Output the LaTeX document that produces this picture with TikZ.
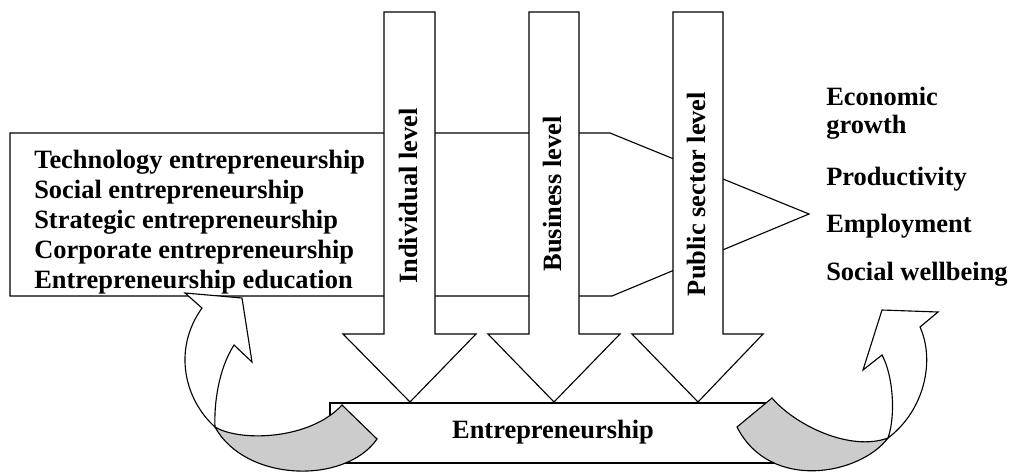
\documentclass[tikz,border=0pt]{standalone}
\usepackage{fontspec}
\setmainfont{Liberation Serif}
\usepackage{tikz}
\usetikzlibrary{positioning}
\definecolor{xam}{RGB}{204,204,204}

\tikzset{
    khung/.style={draw, fill=white, line width=0.8pt, line join=miter},
    bong/.style={draw, fill=xam, line width=0.8pt},
    chu/.style={font=\fontsize{18.8}{21.3}\selectfont\bfseries, inner sep=0pt}
}

\begin{document}
\begin{tikzpicture}[x=0.025cm, y=-0.025cm]

            \useasboundingbox (0,0) rectangle (1012,475);

            % Vẽ dải nền dạng mũi tên
            \draw[khung] (10,133) -- (610,133) -- (809,214) -- (612,296) -- (10,296) -- cycle;

            % Ghi chú các loại hình
            \node[chu, anchor=base west] (tech) at (34,168) {Technology entrepreneurship};
            \node[chu, anchor=base west] (social) at (34,198) {Social entrepreneurship};
            \node[chu, anchor=base west] (strat) at (34,228) {Strategic entrepreneurship};
            \node[chu, anchor=base west] (corp) at (34,258) {Corporate entrepreneurship};
            \node[chu, anchor=base west] (edu) at (34,288) {Entrepreneurship education};

            % Vẽ ba mũi tên đi xuống
            \draw[khung] (384,12) -- (435,12) -- (435,334) -- (476,334) -- (410,402) -- (343,334) -- (384,334) -- cycle;
            \draw[khung] (529,12) -- (579,12) -- (579,334) -- (620,334) -- (554,402) -- (488,334) -- (529,334) -- cycle;
            \draw[khung] (673,12) -- (723,12) -- (723,334) -- (763,334) -- (698,402) -- (632,334) -- (673,334) -- cycle;

            \node[chu, rotate=90, anchor=base] (indiv) at (417,196) {Individual level};
            \node[chu, rotate=90, anchor=base] (busi) at (561,194) {Business level};
            \node[chu, rotate=90, anchor=base] (publ) at (705,194) {Public sector level};

            % Khung Entrepreneurship
            \draw[khung] (330,403) rectangle (776,463);
            \node[chu, anchor=base] (entre) at (553,438) {Entrepreneurship};

            % Ghi chú kết quả
            \node[chu, anchor=base west] (econ) at (826,105) {Economic};
            \node[chu, anchor=base west] (growth) at (826,133) {growth};
            \node[chu, anchor=base west] (prod) at (826,185) {Productivity};
            \node[chu, anchor=base west] (empl) at (826,232) {Employment};
            \node[chu, anchor=base west] (well) at (826,280) {Social wellbeing};

            % Mũi tên cong bên trái
            \draw[khung] (215,427) .. controls (185,400) and (172,350) .. (202,308) -- (185,293) -- (242,298) -- (252,362) -- (234,345) .. controls (218,370) and (214,405) .. (215,427) -- cycle;
            \draw[bong] (215,427) .. controls (240,442) and (310,440) .. (342,405) -- (377,439) .. controls (345,485) and (245,482) .. (215,427) -- cycle;

            % Mũi tên cong bên phải
            \draw[khung] (888,438) .. controls (925,410) and (935,360) .. (920,327) -- (938,312) -- (882,310) -- (863,370) -- (882,355) .. controls (893,375) and (896,415) .. (888,438) -- cycle;
            \draw[bong] (737,427) -- (772,398) .. controls (795,425) and (850,452) .. (888,438) .. controls (860,475) and (770,492) .. (737,427) -- cycle;

\end{tikzpicture}
\end{document}
